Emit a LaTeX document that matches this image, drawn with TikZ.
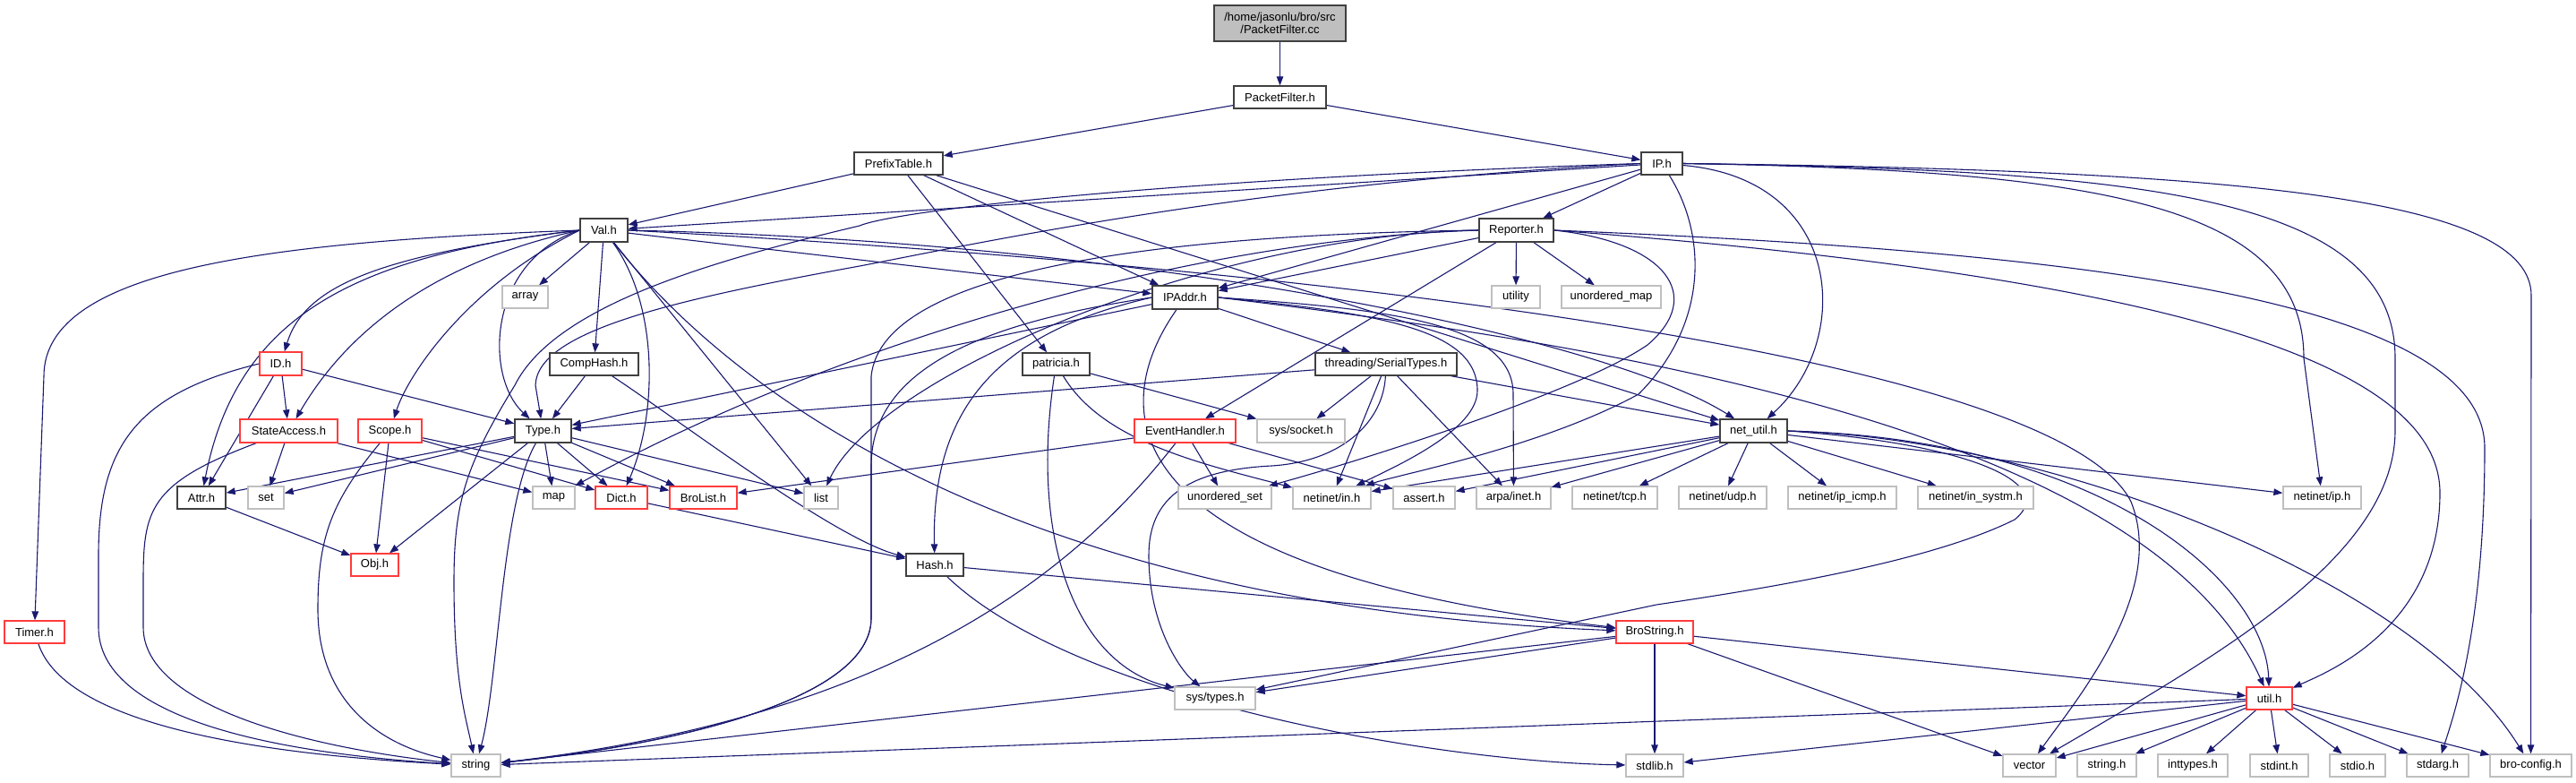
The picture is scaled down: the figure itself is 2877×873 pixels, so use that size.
\documentclass[tikz,border=0pt]{standalone}
\usepackage{fontspec}
\setmainfont{Liberation Sans}
\usetikzlibrary{arrows.meta}
\definecolor{eblue}{RGB}{25,25,112}
\definecolor{bred}{RGB}{255,60,60}
\definecolor{bgray}{RGB}{191,191,191}
\definecolor{bblack}{RGB}{64,64,64}
\pgfdeclarelayer{bg}
\pgfsetlayers{bg,main}
\begin{document}
\begin{tikzpicture}[x=1pt,y=-1pt,
  nb/.style={draw=bblack,line width=1.3pt,fill=white,inner sep=0pt,font=\fontsize{13}{15}\selectfont},
  nr/.style={nb,draw=bred},
  ng/.style={nb,draw=bgray},
  e/.style={draw=eblue,line width=1.1pt,-{Triangle[length=10pt,width=7.5pt]}}]
\useasboundingbox (0,0) rectangle (2877,873);
% nodes
\node[nb,fill=bgray,align=center,minimum width=147pt,minimum height=40pt,font=\fontsize{13}{14}\selectfont] (root) at (1429.5,26) {/home/jasonlu/bro/src\\/PacketFilter.cc};
\node[nb,minimum width=103pt,minimum height=25pt] (pf) at (1429.5,108.5) {PacketFilter.h};
\node[nb,minimum width=99pt,minimum height=25pt] (pt) at (1003.5,182.5) {PrefixTable.h};
\node[nb,minimum width=46pt,minimum height=25pt] (ip) at (1856,182.5) {IP.h};
\node[nb,minimum width=53pt,minimum height=26pt] (val) at (674.5,257) {Val.h};
\node[nb,minimum width=83pt,minimum height=26pt] (rep) at (1693.5,257) {Reporter.h};
\node[ng,minimum width=51pt,minimum height=25pt] (arr) at (586.5,331.5) {array};
\node[nb,minimum width=73pt,minimum height=26pt] (ipa) at (1323.5,332) {IPAddr.h};
\node[ng,minimum width=54pt,minimum height=25pt] (uti) at (1693,331.5) {utility};
\node[ng,minimum width=111pt,minimum height=25pt] (umap) at (1799.5,331.5) {unordered\_map};
\node[nr,minimum width=47pt,minimum height=26pt] (id) at (313.5,406) {ID.h};
\node[nb,minimum width=99pt,minimum height=25pt] (comp) at (663.5,406.5) {CompHash.h};
\node[nb,minimum width=75pt,minimum height=25pt] (pat) at (1179.5,406.5) {patricia.h};
\node[nb,minimum width=158pt,minimum height=25pt] (ser) at (1548,406.5) {threading/SerialTypes.h};
\node[nr,minimum width=109pt,minimum height=26pt] (sa) at (322.5,481) {StateAccess.h};
\node[nr,minimum width=71pt,minimum height=26pt] (scope) at (435.5,481) {Scope.h};
\node[nb,minimum width=63pt,minimum height=26pt] (type) at (606.5,481) {Type.h};
\node[nr,minimum width=113pt,minimum height=26pt] (eh) at (1323.5,481) {EventHandler.h};
\node[ng,minimum width=98pt,minimum height=26pt] (sock) at (1453,481) {sys/socket.h};
\node[nb,minimum width=75pt,minimum height=26pt] (nu) at (1958.5,481) {net\_util.h};
\node[nb,minimum width=54pt,minimum height=25pt] (attr) at (225,555.5) {Attr.h};
\node[ng,minimum width=40pt,minimum height=25pt] (nset) at (297,555.5) {set};
\node[ng,minimum width=47pt,minimum height=25pt] (nmap) at (618.5,555.5) {map};
\node[nr,minimum width=58pt,minimum height=25pt] (dict) at (694,555.5) {Dict.h};
\node[nr,minimum width=75pt,minimum height=25pt] (bl) at (785.5,555.5) {BroList.h};
\node[ng,minimum width=38pt,minimum height=25pt] (nlist) at (917,555.5) {list};
\node[ng,minimum width=104pt,minimum height=25pt] (uset) at (1368,555.5) {unordered\_set};
\node[ng,minimum width=87pt,minimum height=25pt] (inh) at (1487.5,555.5) {netinet/in.h};
\node[ng,minimum width=69pt,minimum height=25pt] (ash) at (1590.5,555.5) {assert.h};
\node[ng,minimum width=83pt,minimum height=25pt] (arpa) at (1690.5,555.5) {arpa/inet.h};
\node[ng,minimum width=95pt,minimum height=25pt] (tcp) at (1803.5,555.5) {netinet/tcp.h};
\node[ng,minimum width=98pt,minimum height=25pt] (udp) at (1924,555.5) {netinet/udp.h};
\node[ng,minimum width=121pt,minimum height=25pt] (icmp) at (2057.5,555.5) {netinet/ip\_icmp.h};
\node[ng,minimum width=129pt,minimum height=25pt] (systm) at (2206.5,555.5) {netinet/in\_systm.h};
\node[ng,minimum width=87pt,minimum height=25pt] (iph) at (2593.5,555.5) {netinet/ip.h};
\node[nr,minimum width=53pt,minimum height=25pt] (obj) at (418.5,630.5) {Obj.h};
\node[nb,minimum width=64pt,minimum height=25pt] (hash) at (1044,630.5) {Hash.h};
\node[nr,minimum width=67pt,minimum height=25pt] (timer) at (38.5,705.5) {Timer.h};
\node[nr,minimum width=86pt,minimum height=25pt] (bs) at (1848,705.5) {BroString.h};
\node[ng,minimum width=90pt,minimum height=25pt] (stypes) at (1357,779.5) {sys/types.h};
\node[nr,minimum width=51pt,minimum height=25pt] (util) at (2534.5,779.5) {util.h};
\node[ng,minimum width=55pt,minimum height=25pt] (str) at (531.5,854.5) {string};
\node[ng,minimum width=64pt,minimum height=25pt] (stdlib) at (1848,854.5) {stdlib.h};
\node[ng,minimum width=59pt,minimum height=25pt] (vec) at (2266.5,854.5) {vector};
\node[ng,minimum width=66pt,minimum height=25pt] (strh) at (2353,854.5) {string.h};
\node[ng,minimum width=78pt,minimum height=25pt] (intt) at (2449,854.5) {inttypes.h};
\node[ng,minimum width=65pt,minimum height=25pt] (stdint) at (2545.5,854.5) {stdint.h};
\node[ng,minimum width=62pt,minimum height=25pt] (stdio) at (2633,854.5) {stdio.h};
\node[ng,minimum width=69pt,minimum height=25pt] (stdarg) at (2722.5,854.5) {stdarg.h};
\node[ng,minimum width=91pt,minimum height=25pt] (bcfg) at (2826.5,854.5) {bro-config.h};
\begin{pgfonlayer}{bg}
% edges: top
\draw[e] (root) -- (pf);
\draw[e] (pf) -- (pt);
\draw[e] (pf) -- (ip);
\draw[e] (pt) -- (val);
\draw[e] (pt) -- (ipa);
\draw[e] (pt) -- (pat);
\draw[e] (pt) -- (nu);
% IP.h
\draw[e] (ip) -- (val);
\draw[e] (ip) -- (ipa);
\draw[e] (ip) -- (rep);
\draw[e] (ip.west) .. controls (1300,200) and (1000,235) .. (960,252) .. controls (800,290) and (620,340) .. (575,430) .. controls (520,520) and (507,560) .. (507,650) .. controls (507,760) and (520,800) .. (str);
\draw[e] (ip.west) .. controls (1400,205) and (1100,270) .. (960,297) .. controls (750,335) and (600,370) .. (598,430) -- (type);
\draw[e] (ip) .. controls (1905,260) and (1910,360) .. (1830,440) .. controls (1720,500) and (1560,530) .. (inh);
\draw[e] (ip) .. controls (2060,200) and (2070,380) .. (nu);
\draw[e] (ip.east) .. controls (2400,190) and (2675,220) .. (2675,400) -- (2675,480) .. controls (2675,620) and (2480,730) .. (vec);
\draw[e] (ip.east) .. controls (2350,190) and (2573,230) .. (2573,400) -- (iph);
\draw[e] (ip.east) .. controls (2500,190) and (2827,220) .. (2827,330) -- (bcfg);
% Reporter.h
\draw[e] (rep) -- (ipa);
\draw[e] (rep) -- (eh);
\draw[e] (rep) -- (uti);
\draw[e] (rep) -- (umap);
\draw[e] (rep.west) .. controls (1300,262) and (985,300) .. (973,420) -- (973,690) .. controls (973,780) and (760,830) .. (str);
\draw[e] (rep.west) .. controls (1300,268) and (900,400) .. (nmap);
\draw[e] (rep.west) .. controls (1350,262) and (980,420) .. (nlist);
\draw[e] (rep.east) .. controls (1860,270) and (1905,330) .. (1840,385) .. controls (1760,440) and (1500,520) .. (uset);
\draw[e] (rep.east) .. controls (2300,280) and (2775,330) .. (2775,500) .. controls (2775,700) and (2740,800) .. (stdarg);
\draw[e] (rep.east) .. controls (2300,300) and (2725,380) .. (2725,550) .. controls (2725,700) and (2600,750) .. (util);
% Val.h
\draw[e] (val) -- (arr);
\draw[e] (val) -- (comp);
\draw[e] (val) -- (nlist);
\draw[e] (val) -- (ipa);
\draw[e] (val) .. controls (735,340) and (735,460) .. (dict);
\draw[e] (val) .. controls (850,480) and (1200,680) .. (bs);
\draw[e] (val.west) .. controls (545,290) and (540,420) .. (type);
\draw[e] (val.west) .. controls (300,270) and (49,300) .. (49,420) -- (timer);
\draw[e] (val.west) .. controls (420,285) and (340,320) .. (id);
\draw[e] (val.west) .. controls (400,285) and (265,350) .. (attr);
\draw[e] (val.west) .. controls (450,300) and (370,400) .. (sa);
\draw[e] (val.west) .. controls (520,320) and (455,420) .. (scope);
\draw[e] (val.east) .. controls (1300,270) and (1800,380) .. (nu);
\draw[e] (val.east) .. controls (1500,300) and (2300,400) .. (2380,560) .. controls (2420,660) and (2320,780) .. (vec);
% IPAddr.h
\draw[e] (ipa) -- (type);
\draw[e] (ipa) -- (ser);
\draw[e] (ipa.west) .. controls (1100,360) and (973,410) .. (973,520) -- (973,690) .. controls (973,780) and (760,830) .. (str);
\draw[e] (ipa.west) .. controls (1120,370) and (1040,450) .. (hash);
\draw[e] (ipa) .. controls (1220,480) and (1280,640) .. (bs);
\draw[e] (ipa.east) .. controls (1550,350) and (1650,370) .. (1650,436) .. controls (1650,480) and (1560,520) .. (inh);
\draw[e] (ipa.east) .. controls (1550,345) and (1690,360) .. (1690,440) -- (arpa);
\draw[e] (ipa.east) .. controls (1800,385) and (2400,480) .. (util);
% EventHandler.h
\draw[e] (eh) -- (uset);
\draw[e] (eh) -- (bl);
\draw[e] (eh) -- (ash);
\draw[e] (eh) .. controls (1200,640) and (1000,800) .. (str);
% SerialTypes
\draw[e] (ser) -- (type);
\draw[e] (ser) -- (sock);
\draw[e] (ser) -- (inh);
\draw[e] (ser) -- (arpa);
\draw[e] (ser) -- (nu);
\draw[e] (ser) .. controls (1545,470) and (1500,515) .. (1420,520) .. controls (1320,525) and (1283,560) .. (1283,620) .. controls (1283,700) and (1320,750) .. (stypes);
% patricia
\draw[e] (pat) -- (sock);
\draw[e] (pat) .. controls (1230,490) and (1330,515) .. (inh);
\draw[e] (pat) .. controls (1150,600) and (1200,740) .. (stypes);
% net_util
\draw[e] (nu) -- (inh);
\draw[e] (nu) -- (ash);
\draw[e] (nu) -- (arpa);
\draw[e] (nu) -- (tcp);
\draw[e] (nu) -- (udp);
\draw[e] (nu) -- (icmp);
\draw[e] (nu) -- (systm);
\draw[e] (nu) -- (iph);
\draw[e] (nu.east) .. controls (2300,490) and (2700,650) .. (bcfg);
\draw[e] (nu.east) .. controls (2350,490) and (2530,650) .. (util);
\draw[e] (nu.east) .. controls (2200,495) and (2300,540) .. (2250,580) .. controls (2150,630) and (1950,660) .. (1850,675) -- (stypes);
% Type.h
\draw[e] (type) -- (attr);
\draw[e] (type) -- (nset);
\draw[e] (type) -- (obj);
\draw[e] (type) -- (nmap);
\draw[e] (type) -- (dict);
\draw[e] (type) -- (bl);
\draw[e] (type) -- (nlist);
\draw[e] (type) .. controls (560,560) and (557,760) .. (str);
% CompHash, Dict, Hash
\draw[e] (comp) -- (type);
\draw[e] (comp) .. controls (760,470) and (930,600) .. (hash);
\draw[e] (dict) -- (hash);
\draw[e] (hash) -- (bs);
\draw[e] (hash) .. controls (1200,780) and (1600,850) .. (stdlib);
% BroString
\draw[e] (bs) -- (stypes);
\draw[e] (bs) -- (str);
\draw[e] (bs) -- (stdlib);
\draw[e] (bs) -- (vec);
\draw[e] (bs) -- (util);
% util
\draw[e] (util) -- (intt);
\draw[e] (util) -- (stdint);
\draw[e] (util) -- (stdio);
\draw[e] (util) -- (stdarg);
\draw[e] (util) -- (bcfg);
\draw[e] (util) -- (strh);
\draw[e] (util) -- (vec);
\draw[e] (util) -- (stdlib);
\draw[e] (util) -- (str);
% left group
\draw[e] (scope) -- (obj);
\draw[e] (scope) -- (dict);
\draw[e] (scope) -- (bl);
\draw[e] (scope) .. controls (370,560) and (355,600) .. (355,680) .. controls (355,780) and (420,830) .. (str);
\draw[e] (sa) -- (nset);
\draw[e] (sa) -- (nmap);
\draw[e] (sa) .. controls (165,540) and (160,570) .. (160,650) -- (160,700) .. controls (160,790) and (350,835) .. (str);
\draw[e] (id) -- (attr);
\draw[e] (id) -- (sa);
\draw[e] (id) -- (type);
\draw[e] (id.west) .. controls (150,440) and (110,500) .. (110,620) -- (110,700) .. controls (110,800) and (300,840) .. (str);
\draw[e] (attr) -- (obj);
\draw[e] (timer) .. controls (70,800) and (250,840) .. (str);
\end{pgfonlayer}
\end{tikzpicture}
\end{document}
